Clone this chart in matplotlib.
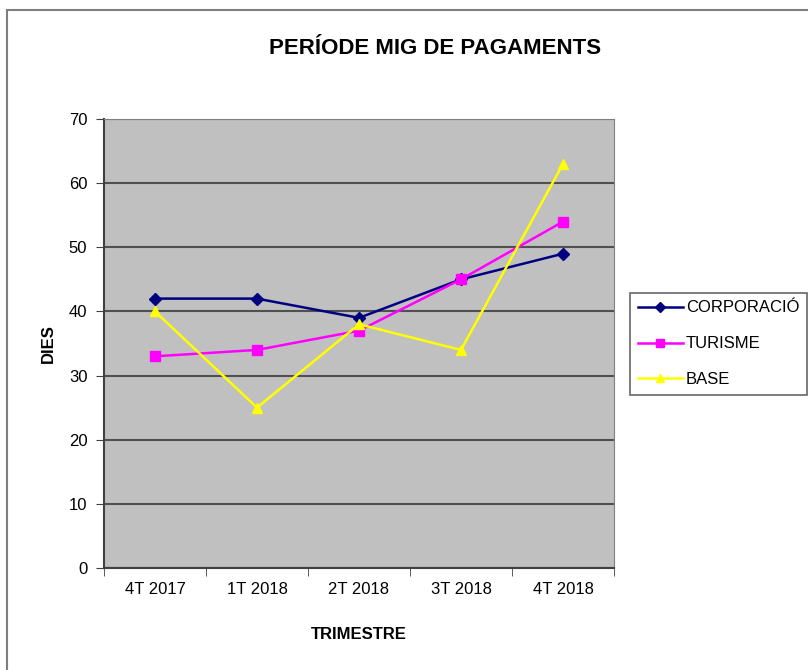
import matplotlib
matplotlib.use("Agg")
import matplotlib.pyplot as plt
from matplotlib.patches import Rectangle
import numpy as np

plt.rcParams['font.family'] = ['Liberation Sans', 'DejaVu Sans']

trimestres = ["4T 2017", "1T 2018", "2T 2018", "3T 2018", "4T 2018"]
corporacio = [42, 42, 39, 45, 49]
turisme = [33, 34, 37, 45, 54]
base = [40, 25, 38, 34, 63]

fig = plt.figure(figsize=(8.08, 6.70), dpi=100)
ax = fig.add_axes([104 / 808, 1 - 568 / 670, 510 / 808, 449 / 670])

# outer chart frame
fig.patches.append(Rectangle((7 / 808, -0.01), 1.0, 1 - 10 / 670 + 0.01,
                             transform=fig.transFigure, fill=False,
                             edgecolor="#7f7f7f", linewidth=1.5))

ax.set_facecolor("#c0c0c0")
x = np.arange(len(trimestres))
ax.plot(x, corporacio, color="#000080", marker="D", markersize=6, lw=1.8, label="CORPORACIÓ")
ax.plot(x, turisme, color="#ff00ff", marker="s", markersize=7, lw=1.8, label="TURISME")
ax.plot(x, base, color="#ffff00", marker="^", markersize=7, lw=1.8, label="BASE")

ax.set_xlim(-0.5, len(trimestres) - 0.5)
ax.set_ylim(0, 70)
ax.set_yticks(range(0, 71, 10))
ax.yaxis.grid(True, color="#505050", lw=1.5)
ax.set_axisbelow(True)
ax.set_xticks(x)
ax.set_xticklabels(trimestres)
ax.set_xticks(np.arange(-0.5, len(trimestres)), minor=True)
ax.tick_params(axis="x", which="major", length=0, pad=10, labelsize=12)
ax.tick_params(axis="x", which="minor", length=6, color="#404040")
ax.tick_params(axis="y", length=6, labelsize=12, color="#404040", pad=6)
for s in ["top", "right"]:
    ax.spines[s].set_color("#808080")
for s in ["left", "bottom"]:
    ax.spines[s].set_color("#404040")
    ax.spines[s].set_linewidth(1.5)

ax.set_xlabel("TRIMESTRE", fontsize=12, fontweight="bold", labelpad=22)
ax.set_ylabel("DIES", fontsize=12, fontweight="bold", labelpad=9)
fig.text(435 / 808, 1 - 48 / 670, "PERÍODE MIG DE PAGAMENTS", ha="center", va="center",
         fontsize=16, fontweight="bold")

leg = ax.legend(loc="upper left", bbox_to_anchor=(630 / 808, 1 - 293 / 670),
                bbox_transform=fig.transFigure, borderaxespad=0, fontsize=12,
                frameon=True, fancybox=False, edgecolor="#404040", handlelength=2.7,
                borderpad=0.45, labelspacing=1.25, handletextpad=0.2, markerscale=0.8)
leg.get_frame().set_linewidth(1.2)

fig.savefig("out.png", dpi=100)
